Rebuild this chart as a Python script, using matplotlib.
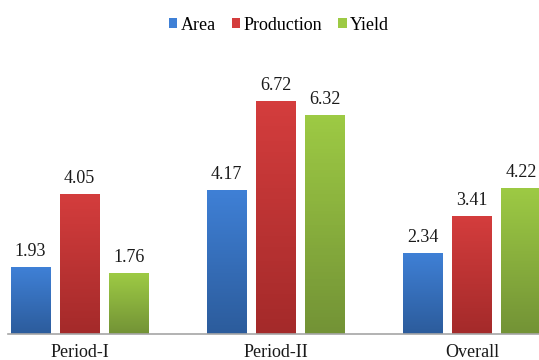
import numpy as np
import matplotlib.pyplot as plt
from matplotlib.colors import LinearSegmentedColormap
from matplotlib.patches import Patch

plt.rcParams['font.family'] = ['Liberation Serif', 'DejaVu Serif']

periods = ['Period-I', 'Period-II', 'Overall']
series = ['Area', 'Production', 'Yield']
area = [1.93, 4.17, 2.34]
production = [4.05, 6.72, 3.41]
yield_ = [1.76, 6.32, 4.22]

# top / bottom colours of each series' vertical gradient
grad = {
    'Area': ('#3f80d6', '#2c5c9c'),
    'Production': ('#d43d3d', '#a42a2a'),
    'Yield': ('#9dca44', '#739336'),
}

fig = plt.figure(figsize=(5.39, 3.6), dpi=100)
ax = fig.add_axes([8 / 539, 26 / 360, 531 / 539, 277 / 360])

x = np.arange(len(periods))
width = 0.2
offsets = [-0.25, 0, 0.25]

for name, vals, off in zip(series, [area, production, yield_], offsets):
    top, bottom = grad[name]
    cmap = LinearSegmentedColormap.from_list(name, [bottom, top])
    bars = ax.bar(x + off, vals, width, color='none', edgecolor='none')
    for b, v in zip(bars, vals):
        x0, w, h = b.get_x(), b.get_width(), b.get_height()
        img = ax.imshow(np.linspace(0, 1, 64).reshape(-1, 1), cmap=cmap,
                        origin='lower', extent=[x0, x0 + w, 0, h],
                        aspect='auto', zorder=2)
        img.set_clip_path(b)
        ax.annotate(f'{v:.2f}', (x0 + w / 2, h), xytext=(0, 5),
                    textcoords='offset points', ha='center', va='bottom',
                    fontsize=13, color='#1a1a1a')

ax.set_xlim(-0.365, 2.342)
ax.set_ylim(0, 8)
ax.set_xticks(x)
ax.set_xticklabels(periods, fontsize=13, color='#1a1a1a')
ax.tick_params(axis='x', length=0, pad=7)
ax.set_yticks([])
for s in ['left', 'right', 'top']:
    ax.spines[s].set_visible(False)
ax.spines['bottom'].set_color('#a6a6a6')
ax.spines['bottom'].set_linewidth(1.2)

handles = [Patch(facecolor=grad[n][0], edgecolor='none') for n in series]
fig.legend(handles, series, loc='center', bbox_to_anchor=(279 / 539, 1 - 25 / 360),
           ncol=3, frameon=False, fontsize=13, handlelength=0.45,
           handleheight=0.45, handletextpad=0.2, columnspacing=0.9)

fig.savefig('out.png', dpi=100)
